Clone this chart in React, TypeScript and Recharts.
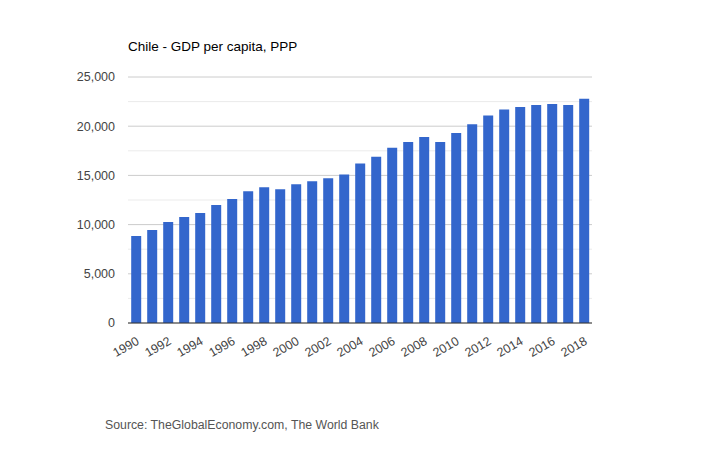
import React from "react";
import { BarChart, Bar, XAxis, YAxis, CartesianGrid } from "recharts";

const years = [
  "1990", "1991", "1992", "1993", "1994", "1995", "1996", "1997", "1998", "1999",
  "2000", "2001", "2002", "2003", "2004", "2005", "2006", "2007", "2008", "2009",
  "2010", "2011", "2012", "2013", "2014", "2015", "2016", "2017", "2018",
];
const gdpPerCapita = [
  8850, 9450, 10260, 10770, 11180, 11990, 12600, 13400, 13800, 13600,
  14100, 14400, 14700, 15100, 16200, 16900, 17800, 18400, 18900, 18400,
  19300, 20200, 21100, 21700, 21950, 22150, 22250, 22150, 22800,
];
const yTicks = [0, 5000, 10000, 15000, 20000, 25000];
const minorLines = [2500, 7500, 12500, 17500, 22500];

const data = years.map((y, i) => ({ year: y, value: gdpPerCapita[i] }));

const FONT = "Arial, 'Liberation Sans', sans-serif";

const XTick = (props: any) => {
  const { x, y, payload } = props;
  return (
    <g transform={`translate(${x + 2},${y + 9})`}>
      <text
        textAnchor="end"
        transform="rotate(-30)"
        fontFamily={FONT}
        fontSize={12.5}
        fill="#444"
        dy={4}
      >
        {payload.value}
      </text>
    </g>
  );
};

export default function App() {
  return (
    <div style={{ position: "absolute", left: 0, top: 0, width: 720, height: 450, background: "#fff" }}>
      <div
        style={{
          position: "absolute",
          left: 128,
          top: 39,
          fontFamily: FONT,
          fontSize: 13.5,
          color: "#000",
          whiteSpace: "nowrap",
        }}
      >
        Chile - GDP per capita, PPP
      </div>
      <BarChart
        width={720}
        height={450}
        data={data}
        margin={{ top: 77, right: 128, bottom: 77, left: 0 }}
        barCategoryGap="20%"
      >
        <CartesianGrid vertical={false} horizontalValues={minorLines} stroke="#ebebeb" />
        <CartesianGrid vertical={false} horizontalValues={yTicks} stroke="#cccccc" />
        <XAxis
          dataKey="year"
          interval={1}
          height={50}
          tickLine={false}
          axisLine={{ stroke: "#333", strokeWidth: 1 }}
          tick={<XTick />}
        />
        <YAxis
          width={128}
          domain={[0, 25000]}
          ticks={yTicks}
          tickFormatter={(v: number) => v.toLocaleString("en-US")}
          axisLine={false}
          tickLine={false}
          tickSize={0}
          tickMargin={13}
          tick={{ fontFamily: FONT, fontSize: 12.5, fill: "#444" }}
        />
        <Bar dataKey="value" fill="#3366cc" isAnimationActive={false} />
      </BarChart>
      <div
        style={{
          position: "absolute",
          left: 105,
          top: 418,
          fontFamily: FONT,
          fontSize: 12.3,
          color: "#555",
          whiteSpace: "nowrap",
        }}
      >
        Source: TheGlobalEconomy.com, The World Bank
      </div>
    </div>
  );
}
